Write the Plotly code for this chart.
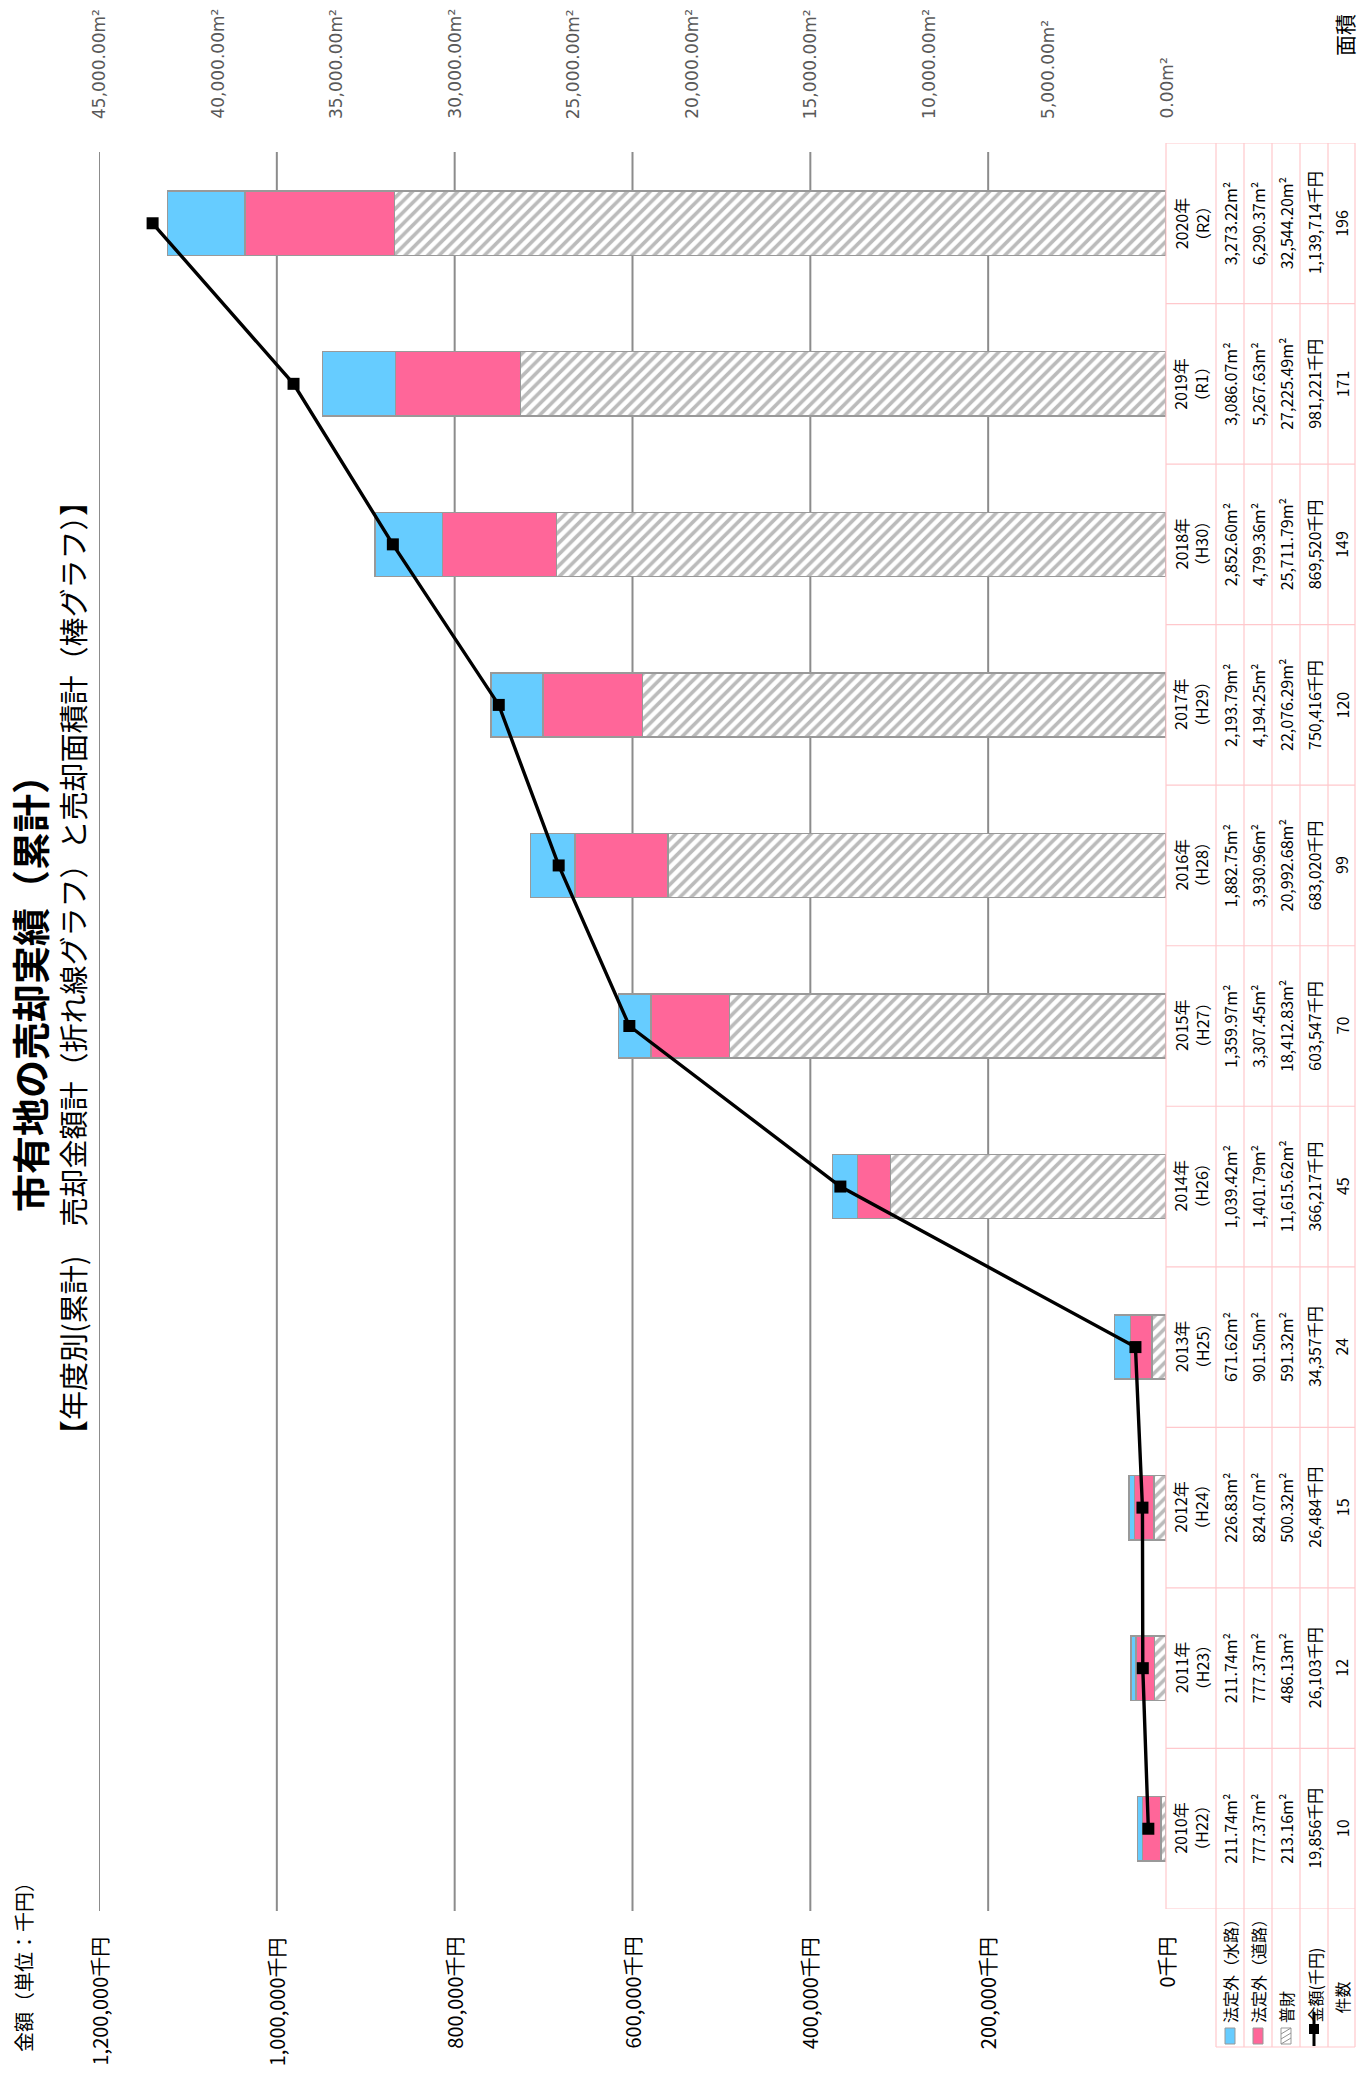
import plotly.graph_objects as go

# ---------------- data ----------------
years = ["2010年", "2011年", "2012年", "2013年", "2014年", "2015年",
         "2016年", "2017年", "2018年", "2019年", "2020年"]
wareki = ["（H22）", "（H23）", "（H24）", "（H25）", "（H26）", "（H27）",
          "（H28）", "（H29）", "（H30）", "（R1）", "（R2）"]
suiro = [211.74, 211.74, 226.83, 671.62, 1039.42, 1359.97, 1882.75, 2193.79, 2852.60, 3086.07, 3273.22]
doro = [777.37, 777.37, 824.07, 901.50, 1401.79, 3307.45, 3930.96, 4194.25, 4799.36, 5267.63, 6290.37]
fuzai = [213.16, 486.13, 500.32, 591.32, 11615.62, 18412.83, 20992.68, 22076.29, 25711.79, 27225.49, 32544.20]
amount = [19856, 26103, 26484, 34357, 366217, 603547, 683020, 750416, 869520, 981221, 1139714]
count = [10, 12, 15, 24, 45, 70, 99, 120, 149, 171, 196]
amount_ticks = [0, 200000, 400000, 600000, 800000, 1000000, 1200000]
area_ticks = [0, 5000, 10000, 15000, 20000, 25000, 30000, 35000, 40000, 45000]
row_labels = ["法定外（水路）", "法定外（道路）", "普財", "金額(千円)", "件数"]

title = "市有地の売却実績（累計）"
subtitle = "【年度別(累計)　売却金額計（折れ線グラフ）と売却面積計（棒グラフ）】"

# ---------------- geometry (screen pixels; page body has an 8px margin) ----------------
OFF = 8
FW, FH = 1366 - 2 * OFF, 2078 - 2 * OFF
L, R, T, B = 99, 1166, 143, 1909
def px(x):
    return (x - L) / (R - L)
def py(y):
    return (B - y) / (B - T)

FONT = "Noto Sans CJK JP, Noto Sans, sans-serif"
BLUE = "#66CCFF"
PINK = "#FF6699"
EDGE = "#999999"
TBL = "#FFC8CC"

fig = go.Figure()

fig.add_trace(go.Bar(
    y=years, x=fuzai, orientation="h", name="普財",
    marker=dict(color="white", line=dict(color=EDGE, width=1.5),
                pattern=dict(shape="/", fgcolor="#777777", bgcolor="white", size=8, solidity=0.45)),
    xaxis="x", yaxis="y"))
fig.add_trace(go.Bar(
    y=years, x=doro, orientation="h", name="法定外（道路）",
    marker=dict(color=PINK, line=dict(color=EDGE, width=1.5)),
    xaxis="x", yaxis="y"))
fig.add_trace(go.Bar(
    y=years, x=suiro, orientation="h", name="法定外（水路）",
    marker=dict(color=BLUE, line=dict(color=EDGE, width=1.5)),
    xaxis="x", yaxis="y"))
fig.add_trace(go.Scatter(
    y=years, x=amount, mode="lines+markers", name="金額(千円)",
    line=dict(color="black", width=3.4),
    marker=dict(symbol="square", size=12, color="black"),
    xaxis="x2", yaxis="y"))

shapes = []
ann = []

# ---------------- gridlines and tick labels (through the axes' scales) ----------------
for v in amount_ticks[1:]:
    shapes.append(dict(type="line", xref="x2", yref="paper", x0=v, x1=v,
                       y0=py(1911), y1=py(152), layer="below",
                       line=dict(color="#8c8c8c", width=2)))
for v in amount_ticks:
    ann.append(dict(xref="x2", yref="paper", x=v, y=py(1935), text=f"{v:,}千円",
                    textangle=-90, showarrow=False, xanchor="center", yanchor="top",
                    font=dict(family=FONT, size=20, color="black")))
for v in area_ticks:
    ann.append(dict(xref="x", yref="paper", x=v, y=py(121), text=f"{v:,.2f}m²",
                    textangle=-90, showarrow=False, xanchor="center", yanchor="bottom",
                    font=dict(family="DejaVu Sans", size=17, color="#595959")))

# ---------------- data table ----------------
cols = [1166, 1216, 1244, 1272, 1300, 1328, 1355]
n = len(years)
for cx in cols:
    shapes.append(dict(type="line", xref="paper", yref="y", x0=px(cx), x1=px(cx),
                       y0=-0.5, y1=n - 0.5, line=dict(color=TBL, width=1.2)))
for i in range(n + 1):
    shapes.append(dict(type="line", xref="paper", yref="y", x0=px(cols[0]), x1=px(cols[-1]),
                       y0=i - 0.5, y1=i - 0.5, line=dict(color=TBL, width=1.2)))
LEG_BOT = 2047
for cx in cols[1:]:
    shapes.append(dict(type="line", xref="paper", yref="paper", x0=px(cx), x1=px(cx),
                       y0=py(B), y1=py(LEG_BOT), line=dict(color=TBL, width=1.2)))
shapes.append(dict(type="line", xref="paper", yref="paper", x0=px(cols[1]), x1=px(cols[-1]),
                   y0=py(LEG_BOT), y1=py(LEG_BOT), line=dict(color=TBL, width=1.2)))

centers = [(cols[k] + cols[k + 1]) / 2 for k in range(len(cols) - 1)]
tfont = dict(family=FONT, size=16, color="black")
for i in range(n):
    ann.append(dict(xref="paper", yref="y", x=px(centers[0]), y=years[i],
                    text=years[i] + "<br>" + wareki[i], textangle=-90, showarrow=False,
                    font=tfont, xanchor="center", yanchor="middle"))
    vals = [f"{suiro[i]:,.2f}m²", f"{doro[i]:,.2f}m²", f"{fuzai[i]:,.2f}m²",
            f"{amount[i]:,}千円", f"{count[i]}"]
    for k, v in enumerate(vals):
        ann.append(dict(xref="paper", yref="y", x=px(centers[k + 1]), y=years[i],
                        text=v, textangle=-90, showarrow=False, font=tfont,
                        xanchor="center", yanchor="middle"))

for k, lab in enumerate(row_labels):
    cx = centers[k + 1]
    ybot = 2025 if k < 4 else 2016
    ann.append(dict(xref="paper", yref="paper", x=px(cx), y=py(ybot), text=lab,
                    textangle=-90, showarrow=False, font=tfont,
                    xanchor="center", yanchor="bottom"))
# legend keys
for k, col in enumerate([BLUE, PINK]):
    cx = centers[k + 1]
    shapes.append(dict(type="rect", xref="paper", yref="paper", x0=px(cx - 5), x1=px(cx + 5),
                       y0=py(2044), y1=py(2028), fillcolor=col, line=dict(color=EDGE, width=1)))
cx = centers[3]
shapes.append(dict(type="rect", xref="paper", yref="paper", x0=px(cx - 5), x1=px(cx + 5),
                   y0=py(2044), y1=py(2028), fillcolor="white", line=dict(color=EDGE, width=1)))
for d in [0, 5, 10]:
    shapes.append(dict(type="line", xref="paper", yref="paper",
                       x0=px(cx - 5), x1=px(cx + 5),
                       y0=py(2044 - d), y1=py(2038 - d),
                       line=dict(color="#909090", width=1)))
cx = centers[4]
shapes.append(dict(type="line", xref="paper", yref="paper", x0=px(cx), x1=px(cx),
                   y0=py(2046), y1=py(2012), line=dict(color="black", width=3)))
shapes.append(dict(type="rect", xref="paper", yref="paper", x0=px(cx - 5), x1=px(cx + 5),
                   y0=py(2034), y1=py(2024), fillcolor="black", line=dict(color="black", width=0)))

# ---------------- titles ----------------
ann.append(dict(xref="paper", yref="paper", x=px(28), y=py(984), text="<b>" + title + "</b>",
                textangle=-90, showarrow=False, font=dict(family=FONT, size=38, color="black"),
                xanchor="center", yanchor="middle", borderpad=0))
ann.append(dict(xref="paper", yref="paper", x=px(72), y=py(968), text=subtitle,
                textangle=-90, showarrow=False, font=dict(family=FONT, size=29, color="black"),
                xanchor="center", yanchor="middle"))
ann.append(dict(xref="paper", yref="paper", x=px(24), y=py(1962), text="金額（単位：千円）",
                textangle=-90, showarrow=False, font=dict(family=FONT, size=20, color="black"),
                xanchor="center", yanchor="middle"))
ann.append(dict(xref="paper", yref="paper", x=px(1344), y=py(35), text="面積",
                textangle=-90, showarrow=False, font=dict(family=FONT, size=21, color="black"),
                xanchor="center", yanchor="middle"))

fig.update_layout(
    width=FW, height=FH,
    margin=dict(l=L - OFF, r=FW - (R - OFF), t=T - OFF, b=FH - (B - OFF), pad=0, autoexpand=False),
    paper_bgcolor="white", plot_bgcolor="white",
    barmode="stack", bargap=0.6,
    showlegend=False,
    xaxis=dict(range=[45000, 0], side="top", showticklabels=False, ticks="",
               showgrid=False, zeroline=False, showline=False, automargin=False),
    xaxis2=dict(range=[1200000, 0], overlaying="x", side="bottom", anchor="y",
                showticklabels=False, ticks="", showgrid=False, zeroline=False,
                showline=False, automargin=False),
    yaxis=dict(type="category", categoryorder="array", categoryarray=years,
               range=[-0.5, len(years) - 0.5],
               showticklabels=False, showgrid=False, zeroline=False, showline=False,
               automargin=False),
    shapes=shapes, annotations=ann,
)

fig.write_html("out.html")
